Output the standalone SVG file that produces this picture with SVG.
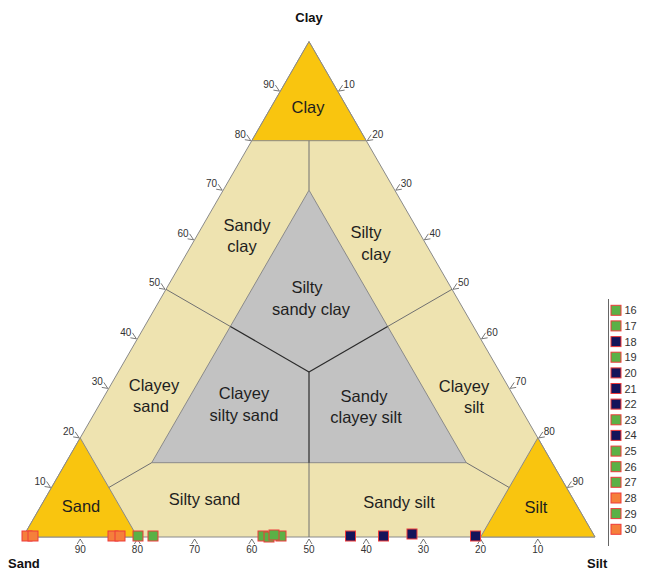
<svg xmlns="http://www.w3.org/2000/svg" width="646" height="573" viewBox="0 0 646 573">
<style>
.tan{fill:#EEE3B0;stroke:#8a8a8a;stroke-width:1}
.gold{fill:#F9C50F;stroke:#8a8a8a;stroke-width:1}
.grey{fill:#C2C2C2;stroke:#8a8a8a;stroke-width:1}
.div{stroke:#707070;stroke-width:1;fill:none}
.divd{stroke:#2a2a2a;stroke-width:1.2;fill:none}
.lab{font-family:"Liberation Sans",Arial,sans-serif;font-size:16.5px;fill:#1e1e1e;text-anchor:middle}
.ax{font-family:"Liberation Sans",Arial,sans-serif;font-size:13px;font-weight:bold;fill:#111}
.tk{font-family:"Liberation Sans",Arial,sans-serif;font-size:10px;fill:#333}
.tkl{stroke:#555;stroke-width:0.8;fill:none}
.leg{font-family:"Liberation Sans",Arial,sans-serif;font-size:11px;fill:#333}
.g{fill:#5BB146;stroke:#EE3A3A;stroke-width:1}
.n{fill:#14145A;stroke:#EE3A3A;stroke-width:1}
.o{fill:#F57F3B;stroke:#EE3A3A;stroke-width:1}
</style>
<defs>
<path id="tl" d="M-5,-6 L-1,0 L-7,-1" class="tkl"/>
<path id="tr" d="M5,-6 L1,0 L7,-1" class="tkl"/>
<path id="tb" d="M-3,5 L0,0 L3,5" class="tkl"/>
</defs>
<rect width="646" height="573" fill="#fff"/>

<g id="regions">
<polygon id="whole" class="tan" points="23,537 595,537 309,41.6"/>
<polygon id="clay-region" class="gold" points="309,41.6 251.8,140.7 366.2,140.7"/>
<polygon id="sand-region" class="gold" points="23,537 137.4,537 80.2,437.9"/>
<polygon id="silt-region" class="gold" points="595,537 480.6,537 537.8,437.9"/>
<polygon id="inner-region" class="grey" points="309,190.2 151.7,462.7 466.3,462.7"/>
</g>

<g id="connectors">
<line class="div" x1="309" y1="140.7" x2="309" y2="190.2"/>
<line class="div" x1="108.8" y1="487.5" x2="151.7" y2="462.7"/>
<line class="div" x1="509.2" y1="487.5" x2="466.3" y2="462.7"/>
<line class="div" x1="166" y1="289.3" x2="230.4" y2="326.5"/>
<line class="div" x1="452" y1="289.3" x2="387.6" y2="326.5"/>
<line class="div" x1="309" y1="462.7" x2="309" y2="537"/>
<line class="divd" x1="230.4" y1="326.5" x2="309" y2="371.9"/>
<line class="divd" x1="387.6" y1="326.5" x2="309" y2="371.9"/>
<line class="divd" x1="309" y1="371.9" x2="309" y2="462.7"/>
</g>

<g id="labels">
<text class="lab" x="308" y="113">Clay</text>
<text class="lab" x="81" y="512">Sand</text>
<text class="lab" x="536" y="513">Silt</text>
<text class="lab" x="204.5" y="505">Silty sand</text>
<text class="lab" x="399" y="508">Sandy silt</text>
<text class="lab" x="247" y="231">Sandy</text>
<text class="lab" x="242" y="252">clay</text>
<text class="lab" x="366" y="238">Silty</text>
<text class="lab" x="376" y="260">clay</text>
<text class="lab" x="307" y="293">Silty</text>
<text class="lab" x="311" y="315">sandy clay</text>
<text class="lab" x="244" y="399">Clayey</text>
<text class="lab" x="244" y="421">silty sand</text>
<text class="lab" x="364" y="402">Sandy</text>
<text class="lab" x="366" y="423">clayey silt</text>
<text class="lab" x="154" y="391">Clayey</text>
<text class="lab" x="151" y="412">sand</text>
<text class="lab" x="464" y="392">Clayey</text>
<text class="lab" x="474" y="413">silt</text>
</g>

<g id="axis-titles">
<text class="ax" x="309" y="22" text-anchor="middle">Clay</text>
<text class="ax" x="8" y="568">Sand</text>
<text class="ax" x="587" y="568">Silt</text>
</g>

<g id="ticks-left">
<use href="#tl" x="51.6" y="487.5"/><text class="tk" x="45.6" y="484.5" text-anchor="end">10</text>
<use href="#tl" x="80.2" y="437.9"/><text class="tk" x="74.2" y="434.9" text-anchor="end">20</text>
<use href="#tl" x="108.8" y="388.4"/><text class="tk" x="102.8" y="385.4" text-anchor="end">30</text>
<use href="#tl" x="137.4" y="338.8"/><text class="tk" x="131.4" y="335.8" text-anchor="end">40</text>
<use href="#tl" x="166" y="289.3"/><text class="tk" x="160" y="286.3" text-anchor="end">50</text>
<use href="#tl" x="194.6" y="239.8"/><text class="tk" x="188.6" y="236.8" text-anchor="end">60</text>
<use href="#tl" x="223.2" y="190.2"/><text class="tk" x="217.2" y="187.2" text-anchor="end">70</text>
<use href="#tl" x="251.8" y="140.7"/><text class="tk" x="245.8" y="137.7" text-anchor="end">80</text>
<use href="#tl" x="280.4" y="91.1"/><text class="tk" x="274.4" y="88.1" text-anchor="end">90</text>
</g>

<g id="ticks-right">
<use href="#tr" x="337.6" y="91.1"/><text class="tk" x="343.6" y="88.1">10</text>
<use href="#tr" x="366.2" y="140.7"/><text class="tk" x="372.2" y="137.7">20</text>
<use href="#tr" x="394.8" y="190.2"/><text class="tk" x="400.8" y="187.2">30</text>
<use href="#tr" x="423.4" y="239.8"/><text class="tk" x="429.4" y="236.8">40</text>
<use href="#tr" x="452" y="289.3"/><text class="tk" x="458" y="286.3">50</text>
<use href="#tr" x="480.6" y="338.8"/><text class="tk" x="486.6" y="335.8">60</text>
<use href="#tr" x="509.2" y="388.4"/><text class="tk" x="515.2" y="385.4">70</text>
<use href="#tr" x="537.8" y="437.9"/><text class="tk" x="543.8" y="434.9">80</text>
<use href="#tr" x="566.4" y="487.5"/><text class="tk" x="572.4" y="484.5">90</text>
</g>

<g id="ticks-bottom" text-anchor="middle">
<use href="#tb" x="80.2" y="539"/><text class="tk" x="80.2" y="553">90</text>
<use href="#tb" x="137.4" y="539"/><text class="tk" x="137.4" y="553">80</text>
<use href="#tb" x="194.6" y="539"/><text class="tk" x="194.6" y="553">70</text>
<use href="#tb" x="251.8" y="539"/><text class="tk" x="251.8" y="553">60</text>
<use href="#tb" x="309" y="539"/><text class="tk" x="309" y="553">50</text>
<use href="#tb" x="366.2" y="539"/><text class="tk" x="366.2" y="553">40</text>
<use href="#tb" x="423.4" y="539"/><text class="tk" x="423.4" y="553">30</text>
<use href="#tb" x="480.6" y="539"/><text class="tk" x="480.6" y="553">20</text>
<use href="#tb" x="537.8" y="539"/><text class="tk" x="537.8" y="553">10</text>
</g>

<g id="samples">
<rect class="o" x="22" y="531" width="10" height="10"/>
<rect class="o" x="28" y="531" width="10" height="10"/>
<rect class="o" x="108" y="531" width="10" height="10"/>
<rect class="o" x="115" y="531" width="10" height="10"/>
<rect class="g" x="133" y="531" width="10" height="10"/>
<rect class="g" x="148" y="531" width="10" height="10"/>
<rect class="g" x="258" y="531" width="10" height="10"/>
<rect class="g" x="276" y="531" width="10" height="10"/>
<rect class="g" x="264" y="532" width="10" height="10"/>
<rect class="g" x="269" y="530" width="10" height="10"/>
<rect class="n" x="345.5" y="531" width="10" height="10"/>
<rect class="n" x="378.5" y="531" width="10" height="10"/>
<rect class="n" x="407" y="529" width="10" height="10"/>
<rect class="n" x="470.5" y="531" width="10" height="10"/>
</g>

<g id="legend">
<line x1="608.5" y1="299" x2="608.5" y2="546" stroke="#666" stroke-width="1"/>
<rect class="g" x="611" y="305.3" width="10" height="10"/><text class="leg" x="624.5" y="314.3">16</text>
<rect class="g" x="611" y="320.9" width="10" height="10"/><text class="leg" x="624.5" y="329.9">17</text>
<rect class="n" x="611" y="336.6" width="10" height="10"/><text class="leg" x="624.5" y="345.6">18</text>
<rect class="g" x="611" y="352.2" width="10" height="10"/><text class="leg" x="624.5" y="361.2">19</text>
<rect class="n" x="611" y="367.9" width="10" height="10"/><text class="leg" x="624.5" y="376.9">20</text>
<rect class="n" x="611" y="383.5" width="10" height="10"/><text class="leg" x="624.5" y="392.5">21</text>
<rect class="n" x="611" y="399.1" width="10" height="10"/><text class="leg" x="624.5" y="408.1">22</text>
<rect class="g" x="611" y="414.8" width="10" height="10"/><text class="leg" x="624.5" y="423.8">23</text>
<rect class="n" x="611" y="430.4" width="10" height="10"/><text class="leg" x="624.5" y="439.4">24</text>
<rect class="g" x="611" y="446.1" width="10" height="10"/><text class="leg" x="624.5" y="455.1">25</text>
<rect class="g" x="611" y="461.7" width="10" height="10"/><text class="leg" x="624.5" y="470.7">26</text>
<rect class="g" x="611" y="477.3" width="10" height="10"/><text class="leg" x="624.5" y="486.3">27</text>
<rect class="o" x="611" y="493" width="10" height="10"/><text class="leg" x="624.5" y="502">28</text>
<rect class="g" x="611" y="508.6" width="10" height="10"/><text class="leg" x="624.5" y="517.6">29</text>
<rect class="o" x="611" y="524.3" width="10" height="10"/><text class="leg" x="624.5" y="533.3">30</text>
</g>
</svg>
